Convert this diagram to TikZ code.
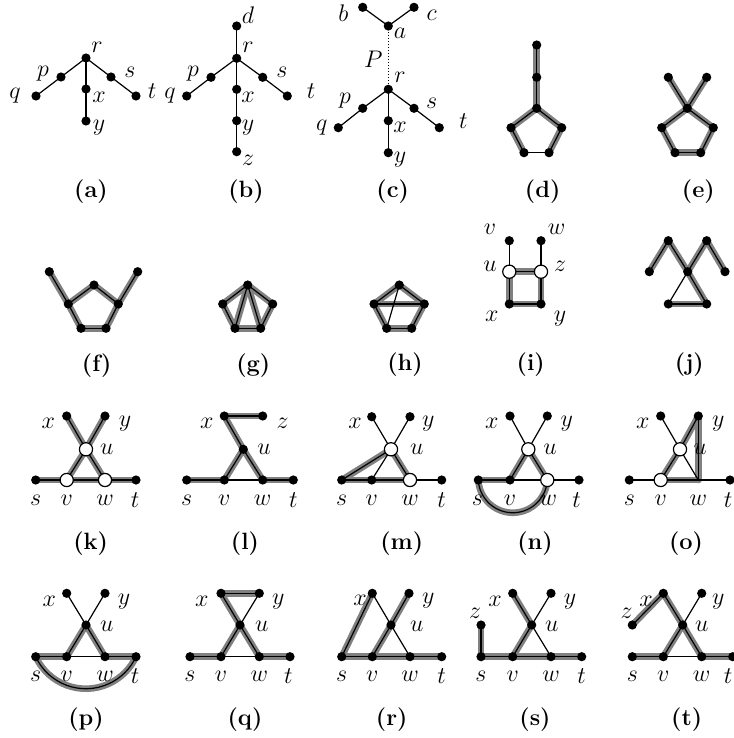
\documentclass[tikz,border=0pt]{standalone}
\pgfdeclarelayer{hlayer}
\pgfdeclarelayer{elayer}
\pgfsetlayers{hlayer,elayer,main}
\tikzset{
  dot/.style={circle,fill=black,inner sep=0pt,minimum size=4.6pt},
  wdot/.style={circle,draw=black,fill=white,line width=0.6pt,inner sep=0pt,minimum size=6.6pt},
  ed/.style={line width=0.6pt,draw=black},
  hl/.style={line width=3.3pt,draw=black!50,line cap=round},
  lab/.style={inner sep=0pt},
  capt/.style={inner sep=0pt}
}
\newcommand\myE[2]{\begin{pgfonlayer}{elayer}\draw[ed] (#1.center) -- (#2.center);\end{pgfonlayer}}
\newcommand\myH[2]{\begin{pgfonlayer}{hlayer}\draw[hl] (#1.center) -- (#2.center);\end{pgfonlayer}\myE{#1}{#2}}
\newcommand\myD[3]{\node[dot] (#1) at (#2,#3) {};}
\newcommand\myW[3]{\node[wdot] (#1) at (#2,#3) {};}
\newcommand\myL[4]{\node[lab] (#1) at (#2,#3) {$#4$};}
\newcommand\myC[4]{\node[capt] (#1) at (#2,#3) {\textbf{(#4)}};}
\begin{document}
\begin{tikzpicture}[x=0.5pt,y=-0.5pt,font=\fontsize{11.8}{14}\selectfont]
\useasboundingbox (0,0) rectangle (733,738);
% ---------- (a)
\myD{a-r}{86}{58}\myD{a-p}{61}{77}\myD{a-q}{36}{96}\myD{a-s}{111}{77}\myD{a-t}{136}{96}\myD{a-x}{86}{89}\myD{a-y}{86}{121}
\myE{a-r}{a-p}\myE{a-p}{a-q}\myE{a-r}{a-s}\myE{a-s}{a-t}\myE{a-r}{a-x}\myE{a-x}{a-y}
\myL{a-lr}{97}{47}{r}\myL{a-lp}{43}{74}{p}\myL{a-lq}{15}{96}{q}\myL{a-ls}{130}{72}{s}\myL{a-lt}{152}{91}{t}\myL{a-lx}{99}{97}{x}\myL{a-ly}{99}{128}{y}
\myC{cap-a}{91}{192}{a}
% ---------- (b)
\myD{b-d}{236.7}{26}\myD{b-r}{236.7}{58.3}\myD{b-p}{211}{77.3}\myD{b-q}{186.7}{96}\myD{b-s}{262.7}{77.3}\myD{b-t}{287.3}{96}\myD{b-x}{236.7}{89.3}\myD{b-y}{236.7}{120.7}\myD{b-z}{236.7}{151.7}
\myE{b-d}{b-r}\myE{b-r}{b-p}\myE{b-p}{b-q}\myE{b-r}{b-s}\myE{b-s}{b-t}\myE{b-r}{b-x}\myE{b-x}{b-y}\myE{b-y}{b-z}
\myL{b-ld}{248}{15}{d}\myL{b-lr}{248}{47}{r}\myL{b-lp}{193}{74}{p}\myL{b-lq}{170}{96}{q}\myL{b-ls}{282}{72}{s}\myL{b-lt}{311}{91}{t}\myL{b-lx}{248}{97}{x}\myL{b-ly}{248}{128}{y}\myL{b-lz}{248}{160}{z}
\myC{cap-b}{246}{192}{b}
% ---------- (c)
\myD{c-b}{362.7}{7.3}\myD{c-c}{414}{7.3}\myD{c-a}{388.3}{26}\myD{c-r}{388.3}{89.3}\myD{c-p}{362.7}{108.3}\myD{c-q}{338.3}{127.7}\myD{c-s}{414}{108.3}\myD{c-t}{439.3}{127.7}\myD{c-x}{388.3}{120.7}\myD{c-y}{388.3}{152.7}
\myE{c-b}{c-a}\myE{c-c}{c-a}\myE{c-r}{c-p}\myE{c-p}{c-q}\myE{c-r}{c-s}\myE{c-s}{c-t}\myE{c-r}{c-x}\myE{c-x}{c-y}
\begin{pgfonlayer}{elayer}\draw[ed,dash pattern=on 0.6pt off 0.9pt] (c-a.center) -- (c-r.center);\end{pgfonlayer}
\myL{c-lb}{343.3}{13.3}{b}\myL{c-lc}{431.7}{15}{c}\myL{c-la}{400}{33}{a}\myL{c-lP}{373.3}{59.3}{P}\myL{c-lr}{400}{77.3}{r}\myL{c-lp}{345}{101}{p}\myL{c-lq}{321.7}{127.7}{q}\myL{c-ls}{431.7}{103.3}{s}\myL{c-lt}{463.3}{120.7}{t}\myL{c-lx}{400}{127.7}{x}\myL{c-ly}{400}{160}{y}
\myC{cap-c}{392.7}{192}{c}
% ---------- (d)
\myD{d-1}{536.7}{45}\myD{d-2}{536.7}{77.3}\myD{d-3}{536.7}{108.3}\myD{d-4}{511}{127.7}\myD{d-5}{561.7}{127.7}\myD{d-6}{524}{152.7}\myD{d-7}{549}{152.7}
\myH{d-1}{d-2}\myH{d-2}{d-3}\myH{d-3}{d-4}\myH{d-4}{d-6}\myH{d-3}{d-5}\myH{d-5}{d-7}\myE{d-6}{d-7}
\myC{cap-d}{542.7}{192}{d}
% ---------- (e)
\myD{e-1}{668.3}{77.3}\myD{e-2}{706.7}{77.3}\myD{e-3}{687.3}{108.3}\myD{e-4}{661.7}{127.7}\myD{e-5}{713.3}{127.7}\myD{e-6}{675}{152.7}\myD{e-7}{700.7}{152.7}
\myH{e-1}{e-3}\myH{e-2}{e-3}\myH{e-3}{e-4}\myH{e-4}{e-6}\myH{e-6}{e-7}\myH{e-7}{e-5}\myH{e-3}{e-5}
\myC{cap-e}{698.3}{192}{e}
% ---------- (f)
\myD{f-1}{49.3}{271.7}\myD{f-2}{68.3}{304}\myD{f-3}{94}{285}\myD{f-4}{118.3}{304}\myD{f-5}{137.7}{271.7}\myD{f-6}{81}{328.3}\myD{f-7}{106}{328.3}
\myH{f-1}{f-2}\myH{f-2}{f-3}\myH{f-3}{f-4}\myH{f-4}{f-5}\myH{f-2}{f-6}\myH{f-6}{f-7}\myH{f-7}{f-4}
\myC{cap-f}{96.7}{366}{f}
% ---------- (g)
\myD{g-1}{247.7}{285}\myD{g-2}{222.7}{304}\myD{g-3}{272.7}{304}\myD{g-4}{235}{328.3}\myD{g-5}{260.7}{328.3}
\myH{g-1}{g-2}\myH{g-1}{g-3}\myH{g-1}{g-4}\myH{g-1}{g-5}\myH{g-2}{g-4}\myH{g-3}{g-5}\myH{g-4}{g-5}
\myC{cap-g}{253.3}{366}{g}
% ---------- (h)
\myD{h-1}{399.3}{285}\myD{h-2}{374}{304}\myD{h-3}{424.3}{304}\myD{h-4}{386.7}{328.3}\myD{h-5}{411.7}{328.3}
\myH{h-1}{h-2}\myH{h-1}{h-3}\myH{h-2}{h-3}\myH{h-2}{h-4}\myH{h-3}{h-5}\myH{h-4}{h-5}\myE{h-1}{h-4}
\myC{cap-h}{405}{365}{h}
% ---------- (i)
\myD{i-v}{509.3}{240.7}\myD{i-w}{541}{240.7}\myW{i-u}{509.3}{271.7}\myW{i-z}{541}{271.7}\myD{i-x}{509.3}{304}\myD{i-y}{541}{304}
\myH{i-u}{i-z}\myH{i-u}{i-x}\myH{i-x}{i-y}\myH{i-z}{i-y}\myE{i-v}{i-u}\myE{i-w}{i-z}
\myL{i-lv}{490}{229.3}{v}\myL{i-lw}{556.7}{229.3}{w}\myL{i-lu}{490}{266.7}{u}\myL{i-lz}{560}{266.7}{z}\myL{i-lx}{491.7}{316.7}{x}\myL{i-ly}{560}{318.3}{y}
\myC{cap-i}{530.7}{365}{i}
% ---------- (j)
\myD{j-1}{668.3}{240.7}\myD{j-2}{706.7}{240.7}\myD{j-3}{649.3}{271.7}\myD{j-4}{687.7}{271.7}\myD{j-5}{725}{271.7}\myD{j-6}{668.3}{304}\myD{j-7}{706.7}{304}
\myH{j-3}{j-1}\myH{j-1}{j-4}\myH{j-4}{j-2}\myH{j-2}{j-5}\myH{j-4}{j-7}\myH{j-6}{j-7}\myE{j-4}{j-6}
\myC{cap-j}{689.3}{365}{j}
% ---------- (k)
\myD{k-x}{66.7}{416}\myD{k-y}{105}{416}\myW{k-u}{86}{449.3}\myD{k-s}{35.7}{480}\myW{k-v}{66.7}{480}\myW{k-w}{105}{480}\myD{k-t}{136}{480}
\myH{k-x}{k-u}\myH{k-u}{k-w}\myH{k-y}{k-u}\myH{k-u}{k-v}\myH{k-s}{k-v}\myH{k-v}{k-w}\myH{k-w}{k-t}
\myL{k-lx}{48.3}{423.3}{x}\myL{k-ly}{125}{423.3}{y}\myL{k-lu}{106.7}{449.3}{u}\myL{k-ls}{35.7}{500}{s}\myL{k-lv}{66.7}{500}{v}\myL{k-lw}{105}{500}{w}\myL{k-lt}{135}{500}{t}
\myC{cap-k}{90.7}{543.3}{k}
% ---------- (l)
\myD{l-x}{224.3}{416}\myD{l-z}{262.7}{416}\myD{l-u}{243.3}{449.3}\myD{l-s}{186.7}{480}\myD{l-v}{224.3}{480}\myD{l-w}{262.7}{480}\myD{l-t}{293.3}{480}
\myH{l-x}{l-z}\myH{l-x}{l-u}\myH{l-u}{l-w}\myH{l-u}{l-v}\myH{l-s}{l-v}\myH{l-w}{l-t}\myE{l-v}{l-w}
\myL{l-lx}{206.7}{423.3}{x}\myL{l-lz}{282.7}{423.3}{z}\myL{l-lu}{264}{449.3}{u}\myL{l-ls}{186.7}{500}{s}\myL{l-lv}{224.3}{500}{v}\myL{l-lw}{262.7}{500}{w}\myL{l-lt}{293.3}{500}{t}
\myC{cap-l}{245}{543.3}{l}
% ---------- (m)
\myD{m-x}{371.7}{416.7}\myD{m-y}{410}{416.7}\myW{m-u}{391}{449.3}\myD{m-s}{341.7}{480}\myD{m-v}{371.7}{480}\myW{m-w}{410}{480}\myD{m-t}{441.7}{480}
\myE{m-x}{m-u}\myE{m-y}{m-u}\myE{m-u}{m-v}\myE{m-w}{m-t}\myH{m-u}{m-w}\myH{m-s}{m-u}\myH{m-s}{m-v}\myH{m-v}{m-w}
\myL{m-lx}{355}{423.3}{x}\myL{m-ly}{428.3}{423.3}{y}\myL{m-lu}{416.7}{449.3}{u}\myL{m-ls}{341.7}{500}{s}\myL{m-lv}{371.7}{500}{v}\myL{m-lw}{410}{500}{w}\myL{m-lt}{441.7}{500}{t}
\myC{cap-m}{401.7}{543.3}{m}
% ---------- (n)
\myD{n-x}{510}{416}\myD{n-y}{547.3}{416}\myW{n-u}{528.3}{449.3}\myD{n-s}{478.3}{480}\myD{n-v}{510}{480}\myW{n-w}{547.3}{480}\myD{n-t}{579}{480}
\myE{n-x}{n-u}\myE{n-y}{n-u}\myE{n-v}{n-w}\myE{n-w}{n-t}\myH{n-u}{n-v}\myH{n-u}{n-w}\myH{n-s}{n-v}
\begin{pgfonlayer}{hlayer}\draw[hl] (n-s.center) arc[start angle=177,end angle=3,radius=34.55];\end{pgfonlayer}
\begin{pgfonlayer}{elayer}\draw[ed] (n-s.center) arc[start angle=177,end angle=3,radius=34.55];\end{pgfonlayer}
\myL{n-lx}{491.7}{423.3}{x}\myL{n-ly}{566.7}{423.3}{y}\myL{n-lu}{550}{449.3}{u}\myL{n-ls}{477.3}{500}{s}\myL{n-lv}{510}{500}{v}\myL{n-lw}{548.3}{500}{w}\myL{n-lt}{576.7}{500}{t}
\myC{cap-n}{535}{543.3}{n}
% ---------- (o)
\myD{o-x}{660.7}{416}\myD{o-y}{698.3}{416}\myW{o-u}{680}{449.3}\myD{o-s}{629.3}{480}\myW{o-v}{660.7}{480}\coordinate (o-w) at (698.3,480);\myD{o-t}{730}{480}
\myE{o-x}{o-u}\myE{o-u}{o-w}\myE{o-s}{o-v}\myE{o-w}{o-t}\myH{o-v}{o-u}\myH{o-u}{o-y}\myH{o-y}{o-w}\myH{o-v}{o-w}
\myL{o-lx}{642.7}{423.3}{x}\myL{o-ly}{718.3}{423.3}{y}\myL{o-lu}{700}{449.3}{u}\myL{o-ls}{629.3}{500}{s}\myL{o-lv}{660.7}{500}{v}\myL{o-lw}{698.3}{500}{w}\myL{o-lt}{728}{500}{t}
\myC{cap-o}{686}{543.3}{o}
% ---------- (p)
\myD{p-x}{66.7}{593.3}\myD{p-y}{105}{593.3}\myD{p-u}{86}{625}\myD{p-s}{35.7}{656.7}\myD{p-v}{66.7}{656.7}\myD{p-w}{105}{656.7}\myD{p-t}{136}{656.7}
\myE{p-x}{p-u}\myE{p-y}{p-u}\myE{p-v}{p-w}\myH{p-u}{p-v}\myH{p-u}{p-w}\myH{p-s}{p-v}\myH{p-w}{p-t}
\begin{pgfonlayer}{hlayer}\draw[hl] (p-s.center) arc[start angle=155.1,end angle=24.9,radius=55.3];\end{pgfonlayer}
\begin{pgfonlayer}{elayer}\draw[ed] (p-s.center) arc[start angle=155.1,end angle=24.9,radius=55.3];\end{pgfonlayer}
\myL{p-lx}{49.3}{601.7}{x}\myL{p-ly}{124}{601.7}{y}\myL{p-lu}{106.7}{626.7}{u}\myL{p-ls}{35.7}{676}{s}\myL{p-lv}{66.7}{676}{v}\myL{p-lw}{105}{676}{w}\myL{p-lt}{135}{676}{t}
\myC{cap-p}{86}{720}{p}
% ---------- (q)
\myD{q-x}{221}{593.3}\myD{q-y}{259.3}{593.3}\myD{q-u}{240}{625}\myD{q-s}{190}{656.7}\myD{q-v}{221}{656.7}\myD{q-w}{259.3}{656.7}\myD{q-t}{290}{656.7}
\myE{q-y}{q-u}\myE{q-v}{q-w}\myH{q-x}{q-y}\myH{q-x}{q-u}\myH{q-u}{q-w}\myH{q-u}{q-v}\myH{q-s}{q-v}\myH{q-w}{q-t}
\myL{q-lx}{201.7}{601.7}{x}\myL{q-ly}{278.3}{601.7}{y}\myL{q-lu}{261.7}{626.7}{u}\myL{q-ls}{190}{676}{s}\myL{q-lv}{221}{676}{v}\myL{q-lw}{259.3}{676}{w}\myL{q-lt}{288.3}{676}{t}
\myC{cap-q}{245}{720}{q}
% ---------- (r)
\myD{r-x}{372.3}{593.3}\myD{r-y}{409}{593.3}\myD{r-u}{391}{625}\myD{r-s}{341.7}{656.7}\myD{r-v}{372.3}{656.7}\myD{r-w}{410}{656.7}\myD{r-t}{441.7}{656.7}
\myE{r-x}{r-u}\myE{r-u}{r-w}\myH{r-s}{r-x}\myH{r-v}{r-u}\myH{r-u}{r-y}\myH{r-s}{r-v}\myH{r-v}{r-w}\myH{r-w}{r-t}
\myL{r-lx}{360}{600.7}{x}\myL{r-ly}{428.3}{600.7}{y}\myL{r-lu}{416.7}{626.7}{u}\myL{r-ls}{341.7}{676}{s}\myL{r-lv}{372.3}{676}{v}\myL{r-lw}{410}{676}{w}\myL{r-lt}{441.7}{676}{t}
\myC{cap-r}{391.7}{720}{r}
% ---------- (s)
\myD{s-z}{481}{625}\myD{s-x}{512.7}{593.3}\myD{s-y}{551}{593.3}\myD{s-u}{531.7}{625}\myD{s-s}{481}{656.7}\myD{s-v}{512.7}{656.7}\myD{s-w}{551}{656.7}\myD{s-t}{581.7}{656.7}
\myE{s-u}{s-y}\myE{s-u}{s-w}\myH{s-z}{s-s}\myH{s-x}{s-u}\myH{s-u}{s-v}\myH{s-s}{s-v}\myH{s-v}{s-w}\myH{s-w}{s-t}
\myL{s-lz}{475}{613.3}{z}\myL{s-lx}{495}{601.7}{x}\myL{s-ly}{570}{601.7}{y}\myL{s-lu}{551.7}{626.7}{u}\myL{s-ls}{481}{676}{s}\myL{s-lv}{512.7}{676}{v}\myL{s-lw}{551}{676}{w}\myL{s-lt}{581.7}{676}{t}
\myC{cap-s}{535}{720}{s}
% ---------- (t)
\myD{t-z}{632.3}{625}\myD{t-x}{663.3}{593.3}\myD{t-y}{701.7}{593.3}\myD{t-u}{682.7}{625}\myD{t-s}{632.3}{656.7}\myD{t-v}{663.3}{656.7}\myD{t-w}{701.7}{656.7}\myD{t-t}{732.7}{656.7}
\myE{t-u}{t-y}\myE{t-v}{t-w}\myH{t-z}{t-x}\myH{t-x}{t-u}\myH{t-u}{t-w}\myH{t-u}{t-v}\myH{t-s}{t-v}\myH{t-w}{t-t}
\myL{t-lz}{626.7}{613.3}{z}\myL{t-lx}{646}{601.7}{x}\myL{t-ly}{718.3}{601.7}{y}\myL{t-lu}{701.7}{626.7}{u}\myL{t-ls}{632.3}{676}{s}\myL{t-lv}{663.3}{676}{v}\myL{t-lw}{701.7}{676}{w}\myL{t-lt}{728}{676}{t}
\myC{cap-t}{686.7}{720}{t}
\end{tikzpicture}
\end{document}
